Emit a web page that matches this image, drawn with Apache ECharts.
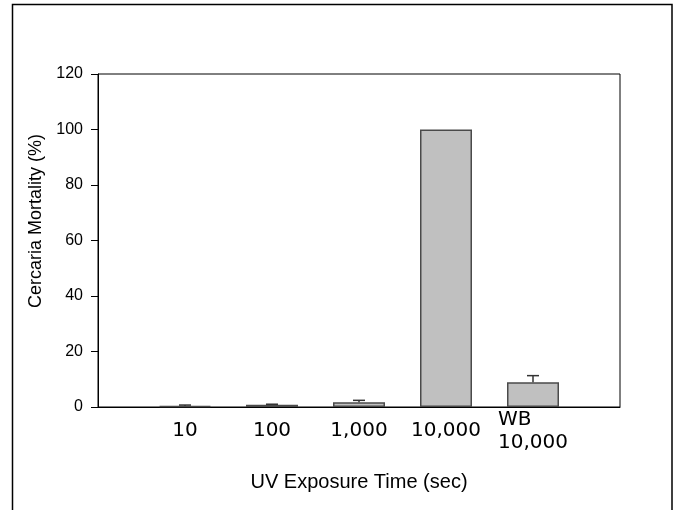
<!DOCTYPE html>
<html>
<head>
<meta charset="utf-8">
<script src="https://cdn.jsdelivr.net/npm/echarts@6/dist/echarts.min.js"></script>
<style>
  html, body { margin: 0; padding: 0; background: #fff; }
  #main { width: 673px; height: 510px; }
</style>
</head>
<body>
<div id="main"></div>
<script>
// exposure groups, placed at x = 1..5 on a 0..6 axis
const categories = ['10', '100', '1,000', '10,000', 'WB\n10,000'];
const positions = [1, 2, 3, 4, 5];
const mortality = [0.4, 0.8, 1.7, 100, 8.9];
const errors = [0.3, 0.2, 0.7, 0, 2.4];
const yTicks = [0, 20, 40, 60, 80, 100, 120];

const chart = echarts.init(document.getElementById('main'));

let barData = positions.map((p, i) => [p, mortality[i]]);
let errData = positions.map((p, i) => [p, mortality[i], errors[i]]);

function renderError(params, api) {
  const x = api.value(0), v = api.value(1), e = api.value(2);
  if (!e) return null;
  const p0 = api.coord([x, v]);
  const p1 = api.coord([x, v + e]);
  const hw = 6;
  const st = { stroke: '#333', lineWidth: 1.5 };
  return {
    type: 'group',
    children: [
      { type: 'line', shape: { x1: p0[0], y1: p0[1], x2: p1[0], y2: p1[1] }, style: st },
      { type: 'line', shape: { x1: p1[0] - hw, y1: p1[1], x2: p1[0] + hw, y2: p1[1] }, style: st }
    ]
  };
}

function xLabel(v) {
  const i = positions.indexOf(v);
  if (i < 0) return '';
  const lines = categories[i].split('\n');
  // multi-line labels are left aligned inside their block
  const key = lines.length > 1 ? 'l' : 'c';
  return lines.map(s => '{' + key + '|' + s + '}').join('\n');
}

const labelFont = { fontFamily: 'DejaVu Sans', fontSize: 20, color: '#000', lineHeight: 23 };

chart.setOption({
  animation: false,
  backgroundColor: '#fff',
  graphic: [{
    type: 'polyline',
    shape: { points: [[12.5, 510], [12.5, 4.5], [672, 4.5], [672, 510]] },
    style: { stroke: '#000', lineWidth: 1.5, fill: null }
  }],
  grid: {
    left: 98, right: 53, top: 74, bottom: 103,
    show: true, borderColor: '#000', borderWidth: 1
  },
  xAxis: {
    type: 'value',
    min: 0, max: 6, interval: 1,
    name: 'UV Exposure Time (sec)',
    nameLocation: 'middle',
    nameGap: 65,
    nameTextStyle: { fontFamily: 'Liberation Sans', fontSize: 20, color: '#000' },
    axisLine: { lineStyle: { color: '#000', width: 1 } },
    axisTick: { show: false },
    splitLine: { show: false },
    axisLabel: {
      margin: 24,
      verticalAlign: 'middle',
      formatter: xLabel,
      rich: {
        c: Object.assign({}, labelFont),
        l: Object.assign({ width: 70, align: 'left' }, labelFont)
      }
    }
  },
  yAxis: {
    type: 'value',
    min: 0, max: 120, interval: 20,
    name: 'Cercaria Mortality (%)',
    nameLocation: 'middle',
    nameGap: 52,
    nameTextStyle: { fontFamily: 'Liberation Sans', fontSize: 18, color: '#000', padding: [0, 0, 0, 39] },
    axisLine: { show: true, lineStyle: { color: '#000', width: 1 } },
    axisTick: { show: true, inside: false, length: 7, lineStyle: { color: '#000' } },
    splitLine: { show: false },
    axisLabel: {
      margin: 15,
      fontFamily: 'Liberation Sans', fontSize: 16, color: '#000',
      formatter: v => yTicks.includes(v) ? String(v) : ''
    }
  },
  series: [
    {
      type: 'bar',
      data: barData,
      barWidth: 52,
      itemStyle: { color: '#c0c0c0', borderColor: '#4a4a4a', borderWidth: 1.5 }
    },
    {
      type: 'custom',
      data: errData,
      renderItem: renderError,
      z: 3
    }
  ]
});
</script>
</body>
</html>
